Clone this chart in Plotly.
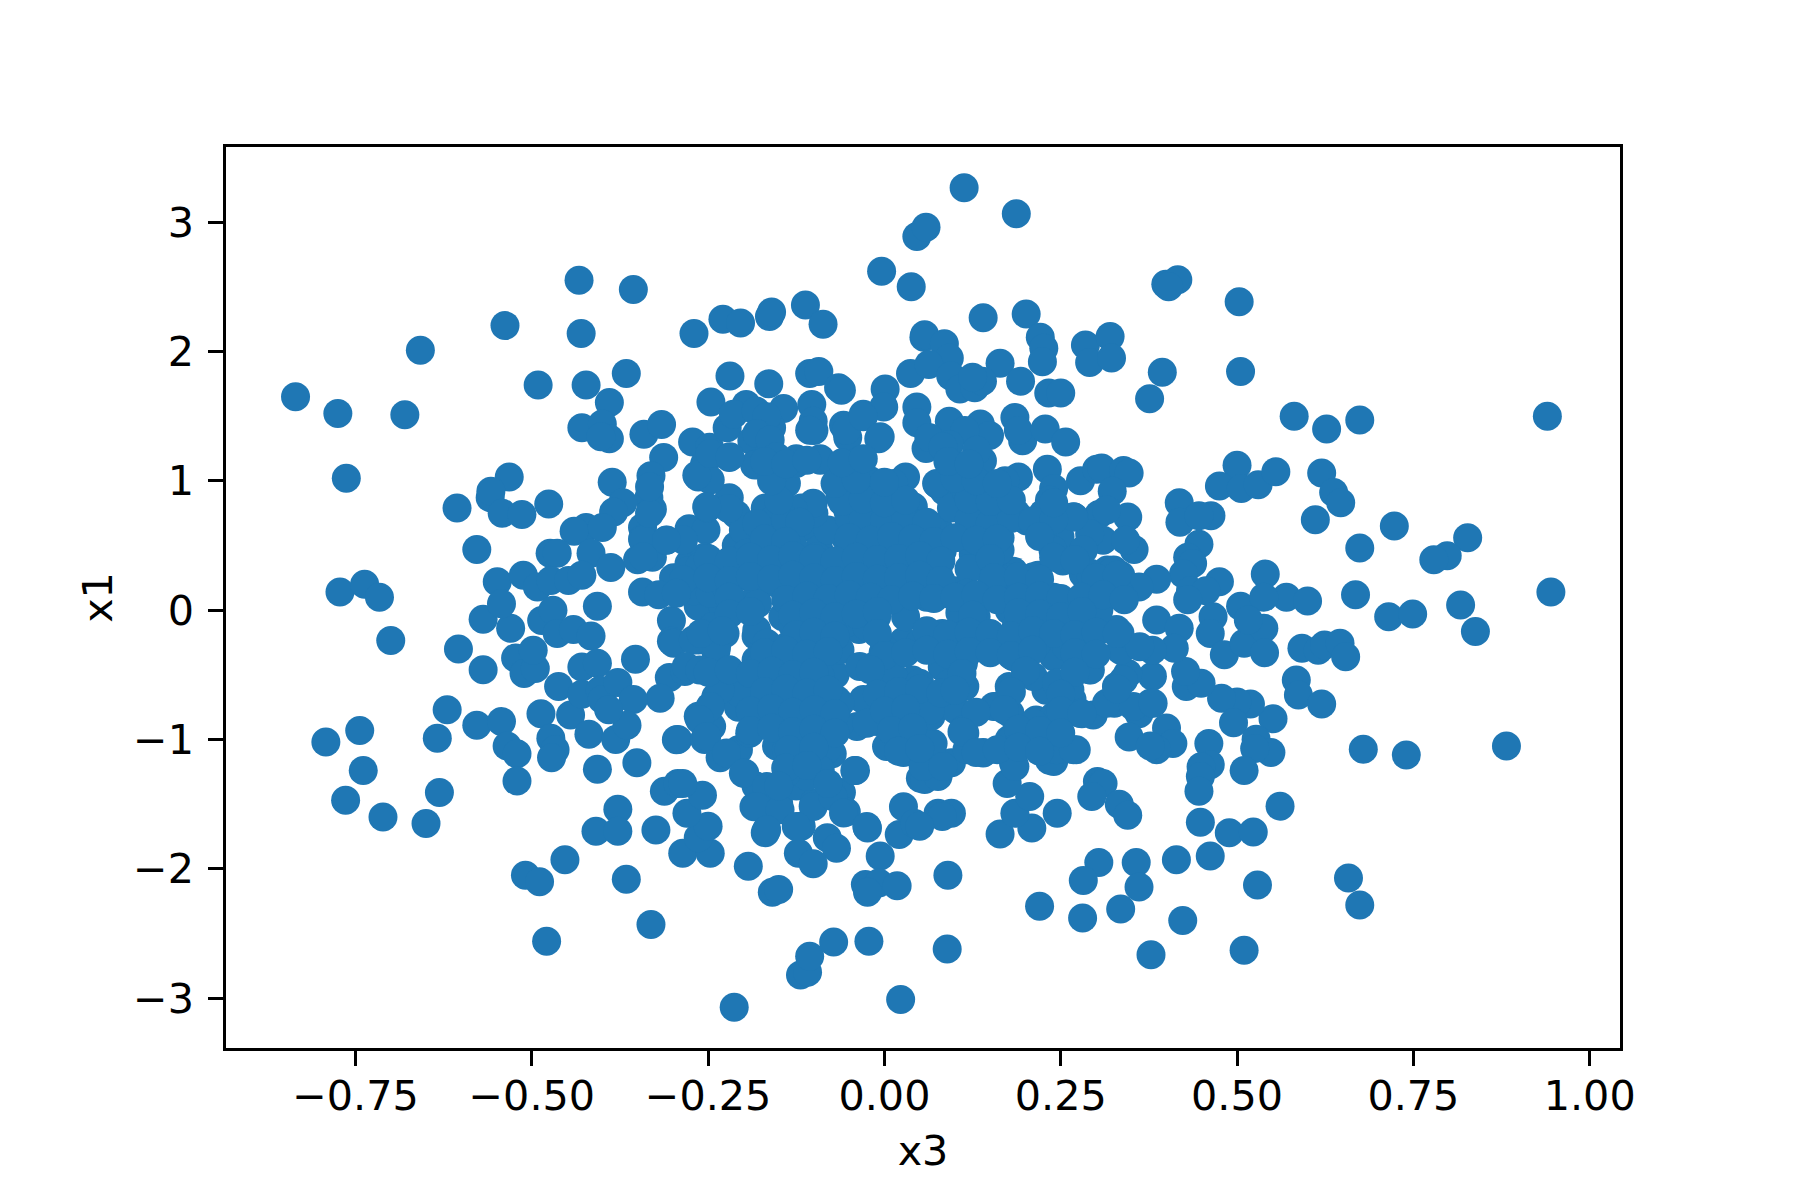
import plotly.graph_objects as go

x3_outer = [
-0.835,-0.775,-0.680,-0.658,-0.538,-0.433,-0.356,-0.430,-0.270,-0.229,
-0.204,-0.163,-0.160,-0.112,-0.087,-0.004,0.038,0.046,0.059,0.056,
0.037,-0.491,-0.423,-0.366,-0.390,-0.429,-0.400,-0.390,-0.402,-0.341,
-0.316,-0.313,-0.272,-0.248,-0.219,-0.164,-0.106,-0.093,-0.065,-0.061,
0.001,-0.246,-0.196,-0.223,-0.214,-0.182,-0.143,-0.103,-0.160,-0.188,
-0.182,-0.220,-0.163,-0.100,-0.101,-0.058,-0.030,-0.001,-0.008,-0.052,
0.046,0.046,0.059,-0.125,-0.091,-0.042,0.030,-0.149,-0.264,-0.255,
-0.331,-0.386,-0.334,-0.329,-0.371,-0.384,-0.423,-0.440,-0.400,-0.532,
-0.559,-0.558,-0.542,-0.514,-0.476,-0.606,-0.763,-0.578,-0.474,-0.464,
-0.416,-0.388,-0.343,-0.343,-0.350,-0.329,-0.277,-0.253,-0.309,-0.210,
-0.251,-0.220,-0.210,-0.169,-0.115,-0.118,-0.052,-0.055,-0.093,-0.277,
-0.255,-0.299,-0.210,-0.150,-0.549,-0.512,-0.492,-0.473,-0.448,-0.429,
-0.772,-0.737,-0.716,-0.343,-0.182,
0.113,0.187,0.399,0.416,0.403,0.503,0.140,0.201,0.221,0.226,
0.224,0.164,0.285,0.320,0.291,0.322,0.394,0.505,0.376,0.193,
0.233,0.250,0.581,0.627,0.674,0.940,0.057,0.085,0.092,0.063,
0.094,0.107,0.128,0.139,0.125,0.092,0.136,0.149,0.185,0.196,
0.190,0.228,0.257,0.063,0.114,0.092,0.133,0.139,0.111,0.231,
0.190,0.171,0.278,0.301,0.308,0.339,0.347,0.240,0.234,0.076,
0.085,0.130,0.177,0.323,0.304,0.345,0.269,0.310,0.354,0.342,
0.418,0.419,0.463,0.446,0.446,0.430,0.437,0.424,0.386,0.475,
0.540,0.500,0.475,0.506,0.530,0.555,0.620,0.637,0.647,0.611,
0.723,0.674,0.827,0.798,0.779,0.945,0.668,0.817,0.505,0.570,
0.600,0.538,0.202,0.133,0.076,0.126,0.183,0.218,0.240,0.253,
0.282,0.291,0.316,0.335,0.361,0.285,0.240,0.152,0.076,0.082,
0.164,0.177,0.095,0.434,0.456,
-0.700,-0.604,-0.569,-0.530,-0.543,-0.569,-0.523,-0.511,-0.495,-0.498,
-0.486,-0.470,-0.464,-0.441,-0.416,-0.429,-0.407,-0.407,-0.353,-0.462,
-0.302,-0.302,-0.305,-0.318,-0.283,-0.264,-0.239,-0.226,-0.264,-0.229,
-0.182,-0.620,-0.578,-0.543,-0.487,-0.535,-0.521,-0.521,-0.634,-0.744,
-0.792,-0.739,-0.764,-0.711,-0.631,-0.650,-0.473,-0.467,-0.472,-0.445,
-0.429,-0.403,-0.419,-0.400,-0.378,-0.356,-0.381,-0.365,-0.391,-0.407,
-0.351,-0.293,-0.255,-0.264,-0.245,-0.233,-0.207,-0.198,-0.239,-0.207,
-0.207,-0.182,-0.153,-0.182,-0.185,-0.169,-0.150,-0.125,-0.100,-0.074,
-0.041,-0.061,-0.054,-0.100,-0.118,-0.081,-0.068,-0.122,-0.101,-0.024,
0.021,0.027,0.043,0.051,-0.006,-0.027,-0.008,-0.024,0.018,-0.193,
-0.159,-0.150,-0.286,-0.247,-0.264,-0.250,-0.280,-0.258,-0.312,-0.293,
-0.286,-0.324,-0.378,-0.409,-0.378,-0.366,-0.453,-0.509,-0.489,-0.479,
-0.331,-0.213,-0.119,-0.109,-0.106,-0.072,-0.022,0.023,
-0.144,-0.112,-0.144,-0.080,-0.036,0.027,-0.017,0.040,-0.112,-0.157,
-0.068,-0.144,-0.093,-0.118,-0.011,0.011,0.027,0.046,0.008,-0.039,
-0.176,-0.125,-0.182,-0.080,-0.030,0.040,
0.715,0.749,0.838,0.592,0.615,0.624,0.646,0.654,0.584,0.587,
0.620,0.551,0.519,0.500,0.478,0.495,0.527,0.548,0.525,0.460,
0.462,0.449,0.448,0.446,0.510,0.679,0.740,0.882,0.561,0.448,
0.489,0.523,0.462,0.414,0.529,0.658,0.674,0.357,0.304,0.282,
0.361,0.220,0.281,0.335,0.423,0.378,0.510,0.089,0.090,0.164,
0.209,0.185,0.206,0.174,0.245,0.302,0.310,0.294,0.333,0.345,
0.076,0.095,0.082,0.050,0.057,0.076,0.095,0.140,0.240,0.234,
0.272,0.183,0.221,0.177,0.215,0.114,0.069,0.066,0.155,0.296,
0.240,0.266,0.229,0.177,0.114,0.082,0.291,0.326,0.377,0.361,
0.347,0.400,0.409,0.386,0.377,0.380,0.329,0.345,0.428,0.449,
0.427,0.386,0.418,0.411,0.380,0.335,0.329,0.466,0.462,0.482,
0.510,0.538,0.539,0.516,0.430,0.272,0.209,0.145,0.082,0.114,
0.183,0.240,0.107,0.177,0.240,0.304,0.101,
-0.150,-0.100,-0.050,-0.020,0.020,0.050,-0.080,-0.130,-0.180,-0.220,
-0.270,-0.320,-0.280,-0.050,-0.020,0.030,0.060,0.000,-0.060,-0.100,
0.100,0.150,0.200,0.120,0.180,0.030,-0.030,-0.130,0.130,-0.180,
0.000,-0.070,-0.120,-0.050,0.010,-0.100,-0.150,-0.200,
]

x1_outer = [
1.65,1.52,1.51,2.01,2.20,2.55,2.48,2.14,2.14,2.25,
2.22,2.27,2.305,2.36,2.21,2.62,2.50,2.89,2.96,2.11,
1.83,1.74,1.74,1.83,1.605,1.41,1.44,1.325,1.34,1.36,
1.435,1.18,1.30,1.26,1.81,1.75,1.83,1.845,1.72,1.70,
1.71,1.61,1.59,1.41,1.515,1.54,1.56,1.59,1.41,1.31,
1.13,1.18,1.23,1.39,1.46,1.43,1.515,1.57,1.325,1.335,
1.57,1.45,1.25,1.17,1.17,1.13,1.03,0.92,1.03,1.13,
1.04,0.99,0.87,0.78,0.83,0.76,0.64,0.61,0.64,1.03,
0.87,0.92,0.75,0.74,0.82,0.79,1.02,0.47,0.44,0.44,
0.44,0.33,0.64,0.55,0.39,0.41,0.63,0.62,0.54,0.50,
0.79,0.87,0.74,0.79,0.64,0.79,0.77,0.56,0.47,0.36,
0.41,0.25,0.25,0.38,0.22,0.27,0.18,0.23,0.23,0.27,
0.14,0.20,0.10,0.14,0.10,
3.265,3.065,2.52,2.555,2.50,2.385,2.26,2.29,2.11,2.025,
1.92,1.91,2.05,2.115,1.915,1.95,1.84,1.845,1.635,1.77,
1.68,1.68,1.50,1.40,1.47,1.50,2.13,2.06,1.95,1.90,
1.81,1.71,1.72,1.77,1.80,1.46,1.44,1.35,1.49,1.31,
1.39,1.40,1.30,1.335,1.39,1.28,1.13,1.155,1.10,1.09,
1.03,1.00,1.00,1.09,1.10,1.08,1.06,0.94,0.85,0.97,
0.92,0.92,0.85,0.92,0.74,0.72,0.72,0.54,0.47,0.54,
0.83,0.68,0.73,0.73,0.51,0.41,0.36,0.28,0.24,0.22,
0.28,1.12,0.96,0.94,0.97,1.07,1.06,0.91,0.83,0.70,
0.65,0.48,0.56,0.42,0.39,0.14,0.12,0.04,0.03,0.10,
0.07,0.10,0.69,0.72,0.64,0.43,0.30,0.27,0.47,0.38,
0.28,0.59,0.31,0.27,0.18,0.12,0.10,0.20,0.30,0.46,
0.56,0.77,0.79,0.15,0.15,
-0.235,-0.30,-0.07,-0.14,0.05,-0.46,-0.37,-0.49,-0.45,-0.31,
-0.08,0.00,-0.18,-0.15,-0.20,-0.44,-0.41,0.03,-0.38,-0.59,
-0.08,-0.24,-0.52,-0.68,-0.475,-0.23,-0.32,-0.18,0.03,0.03,
-0.20,-0.77,-0.89,-0.86,-0.80,-1.05,-1.11,-1.32,-0.99,-0.93,
-1.02,-1.24,-1.47,-1.60,-1.41,-1.65,-0.99,-1.08,-1.14,-0.81,
-0.65,-0.62,-0.96,-0.69,-0.56,-0.69,-1.00,-0.89,-0.77,-1.23,
-1.18,-1.00,-1.00,-0.82,-0.90,-1.14,-1.08,-1.26,-0.67,-0.51,
-0.75,-0.82,-1.05,-1.36,-1.52,-1.72,-1.49,-1.36,-1.21,-1.11,
-1.24,-1.41,-1.56,-1.49,-1.67,-1.76,-1.84,-1.88,-1.96,-1.685,
-1.735,-1.52,-1.65,-1.30,-1.90,-2.12,-2.11,-2.18,-2.13,-1.98,
-2.18,-2.16,-1.88,-1.88,-1.76,-1.67,-1.57,-1.43,-1.40,-1.34,
-1.34,-1.70,-1.54,-1.71,-1.71,-2.08,-1.93,-2.05,-2.10,-2.56,
-2.43,-3.07,-2.82,-2.80,-2.675,-2.565,-2.56,-3.01,
-0.05,-0.23,-0.44,-0.08,-0.15,-0.24,-0.44,-0.54,-0.64,-0.69,
-0.69,-0.87,-0.95,-1.08,-0.86,-1.05,-1.10,-0.95,-0.72,-0.90,
-0.64,0.00,-0.385,-0.36,-0.69,-0.745,
-0.05,-0.03,-0.165,-0.295,-0.31,-0.27,-0.255,-0.36,-0.54,-0.655,
-0.725,-0.84,-0.725,-0.71,-0.68,-0.87,-0.997,-1.10,-1.07,-1.03,
-1.195,-1.21,-1.285,-1.40,-1.24,-1.075,-1.12,-1.05,-1.515,-1.64,
-1.72,-1.715,-1.90,-1.93,-2.125,-2.07,-2.28,-1.95,-1.95,-2.09,
-2.14,-2.29,-2.38,-2.31,-2.40,-2.665,-2.63,-2.62,-2.05,-1.73,
-1.685,-1.57,-1.44,-1.34,-1.57,-1.325,-1.34,-1.44,-1.50,-1.585,
-1.57,-1.57,-1.595,-1.67,-1.31,-1.285,-1.18,-1.10,-1.17,-1.16,
-1.08,-1.18,-1.05,-1.00,-0.85,-0.95,-1.03,-0.82,-0.745,-0.81,
-0.82,-0.69,-0.62,-0.59,-0.59,-0.44,-0.46,-0.72,-0.72,-0.80,
-0.98,-0.91,-1.03,-1.08,-1.05,-0.51,-0.59,-0.49,-0.59,-0.565,
-0.475,-0.075,-0.14,-0.295,-0.31,-0.31,-0.15,-0.05,-0.18,-0.345,
-0.255,-0.14,-0.33,-0.075,0.08,-0.18,-0.18,-0.18,-0.18,-0.36,
-0.36,-0.36,-0.02,0.00,0.00,0.00,-0.77,
0.20,0.30,0.45,0.60,0.35,0.55,0.62,0.50,0.40,0.18,
0.15,0.12,0.30,0.90,1.00,0.80,0.10,0.15,0.05,0.12,
0.15,0.12,0.15,0.32,0.25,-0.05,-0.10,-0.12,-0.05,0.05,
-0.30,-0.50,-0.80,0.72,0.90,0.75,0.70,0.62,
]

x3_core = [
-0.167,-0.181,-0.162,-0.184,-0.139,-0.221,-0.247,-0.266,-0.252,-0.247,
-0.219,-0.153,-0.125,-0.091,-0.106,-0.054,-0.030,-0.006,-0.035,-0.049,
-0.011,0.013,-0.101,-0.129,-0.158,-0.181,-0.063,-0.030,0.003,-0.035,
-0.002,-0.096,-0.124,-0.167,-0.195,-0.224,-0.262,-0.285,-0.295,-0.247,
-0.224,-0.191,-0.158,-0.124,-0.129,-0.091,-0.063,-0.030,0.003,-0.020,
0.013,-0.063,-0.342,-0.342,-0.285,-0.309,-0.333,-0.333,-0.143,
0.041,0.036,0.069,0.117,0.154,0.187,0.225,0.249,0.239,0.282,
0.268,0.315,0.117,0.074,0.069,0.074,0.041,0.117,0.159,0.164,
0.211,0.239,0.287,0.334,0.292,0.325,0.041,0.131,0.131,0.083,
-0.299,-0.271,-0.243,-0.238,-0.281,-0.262,-0.181,-0.167,-0.177,-0.139,
-0.110,-0.082,-0.054,-0.025,-0.011,-0.096,-0.063,-0.035,-0.002,-0.006,
0.013,-0.120,-0.148,-0.091,-0.082,-0.063,-0.120,-0.158,-0.191,-0.205,
-0.233,-0.247,-0.262,-0.252,-0.224,-0.200,-0.191,-0.153,-0.120,-0.091,
-0.063,-0.025,0.008,0.003,-0.139,-0.110,-0.082,-0.091,-0.110,-0.139,
-0.167,-0.181,-0.148,-0.101,-0.073,-0.058,-0.025,-0.167,-0.125,-0.295,
-0.042,
0.050,0.079,0.117,0.145,0.187,0.221,0.258,0.292,0.183,0.216,
0.258,0.292,0.334,0.362,0.050,0.093,0.112,0.036,0.065,0.036,
0.112,0.117,0.140,0.055,0.083,0.178,0.178,0.159,0.211,0.244,
0.263,0.244,0.211,0.183,0.211,0.244,0.268,0.277,0.315,0.339,
0.353,0.381,0.185,
]

x1_core = [
1.495,1.366,1.315,1.122,0.98,0.787,1.006,1.044,0.80,1.212,
1.186,1.186,1.134,1.16,1.392,1.392,1.495,1.34,1.16,0.98,
0.93,0.98,0.826,0.774,0.697,0.671,0.877,0.774,0.748,0.542,
0.542,0.414,0.388,0.517,0.44,0.336,0.336,0.234,0.13,0.13,
0.182,0.311,0.336,0.234,0.105,0.182,0.234,0.336,0.336,0.13,
0.13,0.053,0.543,0.414,0.543,0.543,0.748,0.954,0.568,
0.80,0.594,0.62,0.543,0.645,0.748,0.748,0.568,0.465,0.465,
0.723,0.774,0.903,0.98,0.414,0.182,0.234,0.13,0.259,0.465,
0.259,0.08,0.105,0.13,0.285,0.311,0.44,0.723,1.237,1.263,
-0.256,-0.23,-0.127,-0.282,-0.436,-0.462,-0.153,-0.256,-0.436,-0.282,
-0.153,-0.10,-0.10,-0.127,-0.05,-0.333,-0.307,-0.436,-0.333,-0.513,
-0.513,-0.462,-0.539,-0.513,-0.642,-0.719,-0.668,-0.719,-0.771,-0.642,
-0.616,-0.745,-0.848,-0.977,-1.105,-1.26,-0.951,-0.90,-0.874,-0.874,
-0.874,-0.874,-0.771,-1.054,-1.08,-1.08,-1.08,-1.234,-1.286,-1.26,
-1.363,-1.517,-1.543,-1.517,-1.44,-1.569,-1.672,-1.697,-1.672,-1.002,
-1.239,
-0.256,-0.23,-0.179,-0.23,-0.127,-0.127,-0.127,-0.179,-0.333,-0.256,
-0.282,-0.462,-0.179,-0.282,-0.565,-0.565,-0.41,-0.797,-0.771,-1.028,
-0.925,-1.08,-1.105,-1.208,-1.208,-0.616,-0.797,-0.745,-0.513,-0.565,
-0.616,-0.848,-0.874,-0.977,-1.028,-1.08,-1.08,-0.797,-0.719,-0.539,
-0.745,-0.719,-1.208,
]

x3_dense = [
-0.14,-0.12,-0.03,0.00,0.03,0.06,0.12,0.15,0.18,0.21,0.24,
-0.15,-0.06,-0.03,0.00,0.03,0.12,0.15,0.18,0.24,
-0.17,-0.14,-0.05,-0.02,0.01,0.04,0.07,0.10,0.13,0.16,0.22,
-0.25,-0.22,-0.19,-0.16,-0.13,-0.10,-0.07,-0.04,-0.01,0.02,0.05,0.08,0.15,0.24,0.27,
-0.25,-0.22,-0.19,-0.16,-0.13,-0.10,-0.07,-0.04,-0.01,0.02,0.05,0.08,0.155,0.19,0.22,0.30,0.33,
-0.22,-0.14,-0.11,-0.08,-0.05,-0.02,0.01,0.04,0.07,0.10,0.13,0.16,0.19,0.22,0.25,0.28,0.31,0.34,
-0.22,-0.19,-0.13,-0.10,-0.07,-0.04,-0.01,0.125,0.19,0.22,0.25,0.28,
-0.26,-0.23,-0.125,-0.10,-0.07,-0.01,0.06,0.09,0.12,0.15,0.18,0.21,0.24,0.27,0.30,0.33,
-0.17,-0.14,-0.11,-0.08,0.00,0.03,0.06,0.09,0.12,0.15,0.18,0.21,0.27,0.30,
-0.25,-0.22,-0.19,-0.16,-0.13,-0.10,-0.02,0.11,0.20,0.27,
-0.17,-0.14,-0.11,-0.08,-0.01,0.02,0.05,0.08,0.10,0.18,0.25,0.33,
-0.19,-0.16,-0.13,-0.10,-0.07,0.00,0.03,0.13,0.17,0.25,0.28,
-0.19,-0.16,-0.13,-0.10,-0.07,0.01,0.04,0.11,0.19,0.22,0.25,
-0.135,-0.10,0.02,0.05,0.13,0.16,0.19,0.22,
-0.14,-0.11,
-0.15,-0.08,
-0.16,-0.07,-0.04,0.00,0.10,0.13,0.16,
-0.17,-0.14,-0.11,-0.06,-0.03,0.09,0.12,
]

x1_dense = [
0.70,0.68,0.71,0.69,0.72,0.68,0.70,0.67,0.71,0.69,0.70,
0.85,0.84,0.86,0.83,0.85,0.86,0.84,0.85,0.83,
0.55,0.53,0.56,0.54,0.57,0.55,0.53,0.56,0.54,0.55,0.57,
0.40,0.38,0.41,0.39,0.42,0.40,0.38,0.41,0.39,0.40,0.42,0.38,0.40,0.41,0.39,
0.25,0.23,0.26,0.24,0.27,0.25,0.23,0.26,0.24,0.25,0.27,0.23,0.25,0.26,0.24,0.25,0.27,
0.10,0.08,0.11,0.09,0.12,0.10,0.08,0.11,0.09,0.10,0.12,0.08,0.10,0.11,0.09,0.10,0.12,0.08,
-0.03,-0.01,-0.04,-0.02,-0.05,-0.03,-0.01,-0.04,-0.02,-0.03,-0.05,-0.01,
-0.18,-0.16,-0.19,-0.17,-0.20,-0.18,-0.16,-0.19,-0.17,-0.18,-0.20,-0.16,-0.18,-0.19,-0.17,-0.18,
-0.33,-0.31,-0.34,-0.32,-0.35,-0.33,-0.31,-0.34,-0.32,-0.33,-0.35,-0.31,-0.33,-0.34,
-0.48,-0.46,-0.49,-0.47,-0.50,-0.48,-0.46,-0.49,-0.47,-0.48,
-0.63,-0.61,-0.64,-0.62,-0.65,-0.63,-0.61,-0.64,-0.62,-0.63,-0.65,-0.61,
-0.78,-0.76,-0.79,-0.77,-0.80,-0.78,-0.76,-0.79,-0.77,-0.78,-0.80,
-0.93,-0.91,-0.94,-0.92,-0.95,-0.93,-0.91,-0.94,-0.92,-0.93,-0.95,
-1.08,-1.06,-1.09,-1.07,-1.10,-1.08,-1.06,-1.09,
-1.22,-1.20,
-1.36,-1.34,
1.00,0.98,1.01,0.99,1.02,1.00,0.98,
1.15,1.13,1.16,1.14,1.17,1.15,1.13,
]

x_ticks = [-0.75, -0.50, -0.25, 0.00, 0.25, 0.50, 0.75, 1.00]
y_ticks = [-3, -2, -1, 0, 1, 2, 3]
x_range = [-0.9336, 1.0430]
y_range = [-3.385, 3.581]

axis_style = dict(
    showgrid=False, zeroline=False, showline=True, mirror=True,
    linecolor="black", linewidth=3.33, ticks="outside", ticklen=14.6,
    tickwidth=3.33, tickcolor="black", tickmode="array",
    tickfont=dict(family="DejaVu Sans", size=41.3, color="black"),
)
title_font = dict(family="DejaVu Sans", size=41.3, color="black")

fig = go.Figure(go.Scatter(
    x=x3_outer + x3_core + x3_dense, y=x1_outer + x1_core + x1_dense, mode="markers",
    marker=dict(color="#1f77b4", size=29, line=dict(width=0)),
))
fig.update_layout(
    width=1800, height=1200, autosize=False,
    margin=dict(l=226.3, r=180.2, t=146.5, b=151.5, pad=0),
    paper_bgcolor="white", plot_bgcolor="white", showlegend=False,
)
fig.update_xaxes(range=x_range, tickvals=x_ticks, tickformat=".2f", ticklabelstandoff=-5,
                 title=dict(text="x3", standoff=17, font=title_font), **axis_style)
fig.update_yaxes(range=y_range, tickvals=y_ticks, tickformat="d", ticklabelstandoff=6,
                 title=dict(text="x1", standoff=8, font=title_font), **axis_style)
fig.write_html("out.html", config=dict(displayModeBar=False),
               post_script="document.body.style.margin='0';")
